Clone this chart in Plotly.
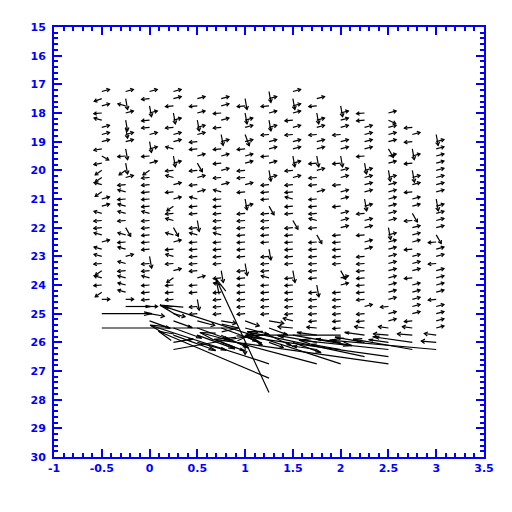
import math
import plotly.graph_objects as go

# ---------------- data ----------------
col_x = [-0.5, -0.25, 0.0, 0.25, 0.5, 0.75, 1.0, 1.25, 1.5, 1.75, 2.0, 2.25, 2.5, 2.75, 3.0]
col_top = [17.25, 17.25, 17.25, 17.25, 17.5, 17.5, 17.5, 17.25, 17.25, 17.5, 17.75, 18.0, 18.0, 18.5, 18.75]
row_step = 0.25

# direction of each vector (degrees, counter-clockwise from east as seen on the chart)
ang_c0 = [15,200,15,185,165, 15,15,15,190,330, 190,215,215,165,215, 15,15,165,185,185, 165,15,165,165,185, 215,165,185,215,0, 0,0,0,0]
ang_c1 = [15,280,165,15,280, 280,15,15,280,185, 280,215,15,185,165, 185,165,165,185,300, 165,185,165,15,165, 185,165,165,165,0, 0]
ang_c2 = [15,185,280,15,185, 185,15,280,15,185, 15,215,185,185,185, 185,185,165,185,185, 185,185,185,280,185, 185,165,185,185,185, 0,350,340]
ang_c3 = [15,15,185,280,15, 185,15,15,165,280, 15,185,165,15,185, 15,215,185,165,300, 165,15,185,165,185, 15,215,185,185,185, 185,345,340,340,340, 10,10]
ang_c4 = [15,185,15,280,15, 15,185,185,15,300, 185,15,185,15,165, 185,185,280,185,165, 185,185,185,185,185, 15,185,185,280,185, 185,345,340,340,345]
ang_c5 = [15,15,185,15,185, 280,15,185,15,185, 15,185,15,165,185, 185,185,185,185,165, 185,185,185,185,280, 185,165,185,185,185, 185,350,340,335,340]
ang_c6 = [280,185,280,15,15, 290,15,185,15,15, 185,185,15,185,280, 15,185,185,185,185, 185,185,185,280,185, 185,185,185,185,185, 185,340,345,330,270]
ang_c7 = [280,15,185,15,280, 15,185,15,15,185, 15,280,15,185,185, 185,300,185,185,185, 185,185,280,185,185, 185,165,185,185,185, 185,185,350,340,335,340]
ang_c8 = [15,280,15,15,185, 15,185,15,15,280, 15,185,15,185,185, 165,185,185,300,185, 185,185,185,185,185, 280,185,185,185,185, 185,185,165,175,350,340]
ang_c9 = [15,185,280,15,15, 185,15,15,280,185, 15,185,185,15,185, 185,185,165,185,300, 185,185,185,185,185, 185,280,185,185,185, 185,185,175,172,170, 172,0,165]
ang_c10 = [280,15,15,15,185, 15,15,280,185,15, 15,185,15,15,185, 15,15,15,185,185, 185,185,185,300,15, 15,185,185,185,185, 185,185,180,172,170, 0,162]
ang_c11 = [185,185,15,15,15, 15,185,280,15,15, 15,15,280,15,185, 15,15,185,15,15, 185,185,185,185,185, 185,185,15,185,185, 172,172,170,0,168]
ang_c12 = [15,335,15,15,15, 300,15,15,280,15, 15,15,15,15,15, 15,280,15,15,15, 15,15,15,15,15, 15,15,185,15,15, 172,175,172,174,172, 172]
ang_c13 = [185,15,185,280,15, 185,280,15,15,185, 15,15,300,185,15, 15,15,185,15,15, 15,185,15,15,15, 15,15,185,172,175, 172,170]
ang_c14 = [280,15,15,15,15, 15,15,15,15,280, 15,15,15,15,300, 185,15,15,185,15, 15,15,15,185,15, 15,15,15,172,175, 175]

# magnitude of each vector (plot units: 1 = one screen pixel at this scale)
spd_c0 = [8,8,8,8,8, 8,8,8,8,8, 8,8,8,8,8, 8,8,8,8,8, 8,8,8,8,8, 8,8,8,8,8, 0,50,0,137]
spd_c1 = [8,11,8,8,11, 11,8,8,11,8, 11,8,8,8,8, 8,8,8,8,10, 8,8,8,8,8, 8,8,8,8,8, 25]
spd_c2 = [8,8,11,8,8, 8,8,11,8,8, 8,8,8,8,8, 8,8,8,8,8, 8,8,8,12,8, 8,8,8,8,8, 8,15,22]
spd_c3 = [8,8,8,11,8, 8,8,8,8,11, 8,8,8,8,8, 8,8,8,8,10, 8,8,8,8,8, 8,8,8,8,8, 8,12,20,30,45, 20,75]
spd_c4 = [8,8,8,11,8, 8,8,8,8,10, 8,8,8,8,8, 8,8,11,8,8, 8,8,8,8,8, 8,8,8,11,8, 8,18,35,40,30]
spd_c5 = [8,8,8,8,8, 11,8,8,8,8, 8,8,8,8,8, 8,8,8,8,8, 8,8,8,8,12, 8,8,8,8,8, 8,15,40,30,25]
spd_c6 = [11,8,11,8,8, 12,8,8,8,8, 8,8,8,8,11, 8,8,8,8,8, 8,8,8,12,8, 8,8,8,8,8, 8,15,25,20,12]
spd_c7 = [11,8,8,8,11, 8,8,8,8,8, 8,11,8,8,8, 8,10,8,8,8, 8,8,11,8,8, 8,8,8,8,8, 8,8,15,20,25,15]
spd_c8 = [8,11,8,8,8, 8,8,8,8,11, 8,8,8,8,8, 8,8,8,10,8, 8,8,8,8,8, 12,8,8,8,8, 8,8,10,15,60,30]
spd_c9 = [8,8,11,8,8, 8,8,8,11,8, 8,8,8,8,8, 8,8,8,8,10, 8,8,8,8,8, 8,12,8,8,8, 8,8,10,20,40, 25,0,121]
spd_c10 = [11,8,8,8,8, 8,8,11,8,8, 8,8,8,8,8, 8,8,8,8,8, 8,8,8,10,8, 8,8,8,8,8, 8,8,95,25,30, 0,190]
spd_c11 = [8,8,8,8,8, 8,8,11,8,8, 8,8,12,8,8, 8,8,8,8,8, 8,8,8,8,8, 8,8,8,8,8, 10,20,30,0,120]
spd_c12 = [8,8,8,8,8, 10,8,8,11,8, 8,8,8,8,8, 8,12,8,8,8, 8,8,8,8,8, 8,8,8,8,8, 10,15,20,90,145, 176]
spd_c13 = [8,8,8,11,8, 8,12,8,8,8, 8,8,10,8,8, 8,8,8,8,8, 8,8,8,8,8, 8,8,8,10,15, 40,60]
spd_c14 = [11,8,8,8,8, 8,8,8,8,12, 8,8,8,8,10, 8,8,8,8,8, 8,8,8,8,8, 8,8,8,12,15, 107]

col_angles = [ang_c0, ang_c1, ang_c2, ang_c3, ang_c4, ang_c5, ang_c6, ang_c7,
              ang_c8, ang_c9, ang_c10, ang_c11, ang_c12, ang_c13, ang_c14]
col_speeds = [spd_c0, spd_c1, spd_c2, spd_c3, spd_c4, spd_c5, spd_c6, spd_c7,
              spd_c8, spd_c9, spd_c10, spd_c11, spd_c12, spd_c13, spd_c14]

# isolated stations below column 1.25
extra_x = [1.25, 1.25, 1.25]
extra_y = [26.75, 27.25, 27.75]
extra_angle = [162, 157, 115]
extra_speed = [125, 120, 126]

x_ticks = [-1, -0.5, 0, 0.5, 1, 1.5, 2, 2.5, 3, 3.5]
x_tick_text = ["-1", "-0.5", "0", "0.5", "1", "1.5", "2", "2.5", "3", "3.5"]
y_ticks = list(range(15, 31))

# ---------------- geometry ----------------
X_MIN, X_MAX = -1.0, 3.5
Y_MIN, Y_MAX = 15.0, 30.0
W, H = 512, 512
BODY = 8                      # default page margin of the browser
ML, MT = 54 - BODY, 27 - BODY
plot_w, plot_h = 430, 430
MR = W - ML - plot_w
MB = H - MT - plot_h
px_per_x = plot_w / (X_MAX - X_MIN)
px_per_y = plot_h / (Y_MAX - Y_MIN)

xs, ys = [], []


def add_arrow(x0, y0, ang, spd):
    if spd <= 0:
        return
    a = math.radians(ang)
    dxp = spd * math.cos(a)
    dyp = -spd * math.sin(a)          # screen-down positive
    x1 = x0 + dxp / px_per_x
    y1 = y0 + dyp / px_per_y          # y axis reversed: down = larger value
    xs.extend([x0, x1, None])
    ys.extend([y0, y1, None])
    head = min(0.45 * spd, 2.5 + 0.11 * spd)
    half = 32 if spd < 20 else 13
    back = ang + 180
    pts_x, pts_y = [], []
    for s in (-half, half):
        b = math.radians(back + s)
        pts_x.append(x1 + head * math.cos(b) / px_per_x)
        pts_y.append(y1 - head * math.sin(b) / px_per_y)
    xs.extend([pts_x[0], x1, pts_x[1], None])
    ys.extend([pts_y[0], y1, pts_y[1], None])


for cx, top, angs, spds in zip(col_x, col_top, col_angles, col_speeds):
    for i, (ang, spd) in enumerate(zip(angs, spds)):
        add_arrow(cx, top + i * row_step, ang, spd)

for ex, ey, ea, es in zip(extra_x, extra_y, extra_angle, extra_speed):
    add_arrow(ex, ey, ea, es)

fig = go.Figure()
fig.add_trace(go.Scatter(x=xs, y=ys, mode="lines",
                         line=dict(color="black", width=1.2),
                         hoverinfo="skip", showlegend=False))

blue = "#0000ff"
tickfont = dict(family="DejaVu Sans", size=11, color=blue, weight="bold")

fig.update_layout(
    width=W, height=H,
    margin=dict(l=ML, r=MR, t=MT, b=MB, pad=0, autoexpand=False),
    paper_bgcolor="white", plot_bgcolor="white",
    showlegend=False,
    xaxis=dict(range=[X_MIN, X_MAX], tickmode="array", tickvals=x_ticks, ticktext=x_tick_text,
               ticks="inside", ticklen=8, tickwidth=2, tickcolor=blue,
               showline=True, linecolor=blue, linewidth=2, mirror="allticks",
               showgrid=False, zeroline=False, tickfont=tickfont, ticklabelstandoff=0,
               minor=dict(tickmode="linear", tick0=-1, dtick=0.1, ticks="inside",
                          ticklen=4, tickwidth=2, tickcolor=blue, showgrid=False)),
    yaxis=dict(range=[Y_MAX, Y_MIN], tickmode="array", tickvals=y_ticks,
               ticks="inside", ticklen=8, tickwidth=2, tickcolor=blue,
               showline=True, linecolor=blue, linewidth=2, mirror="allticks",
               showgrid=False, zeroline=False, tickfont=tickfont, ticklabelstandoff=4,
               minor=dict(tickmode="linear", tick0=15, dtick=0.2, ticks="inside",
                          ticklen=4, tickwidth=2, tickcolor=blue, showgrid=False)),
)

fig.write_html("out.html")
